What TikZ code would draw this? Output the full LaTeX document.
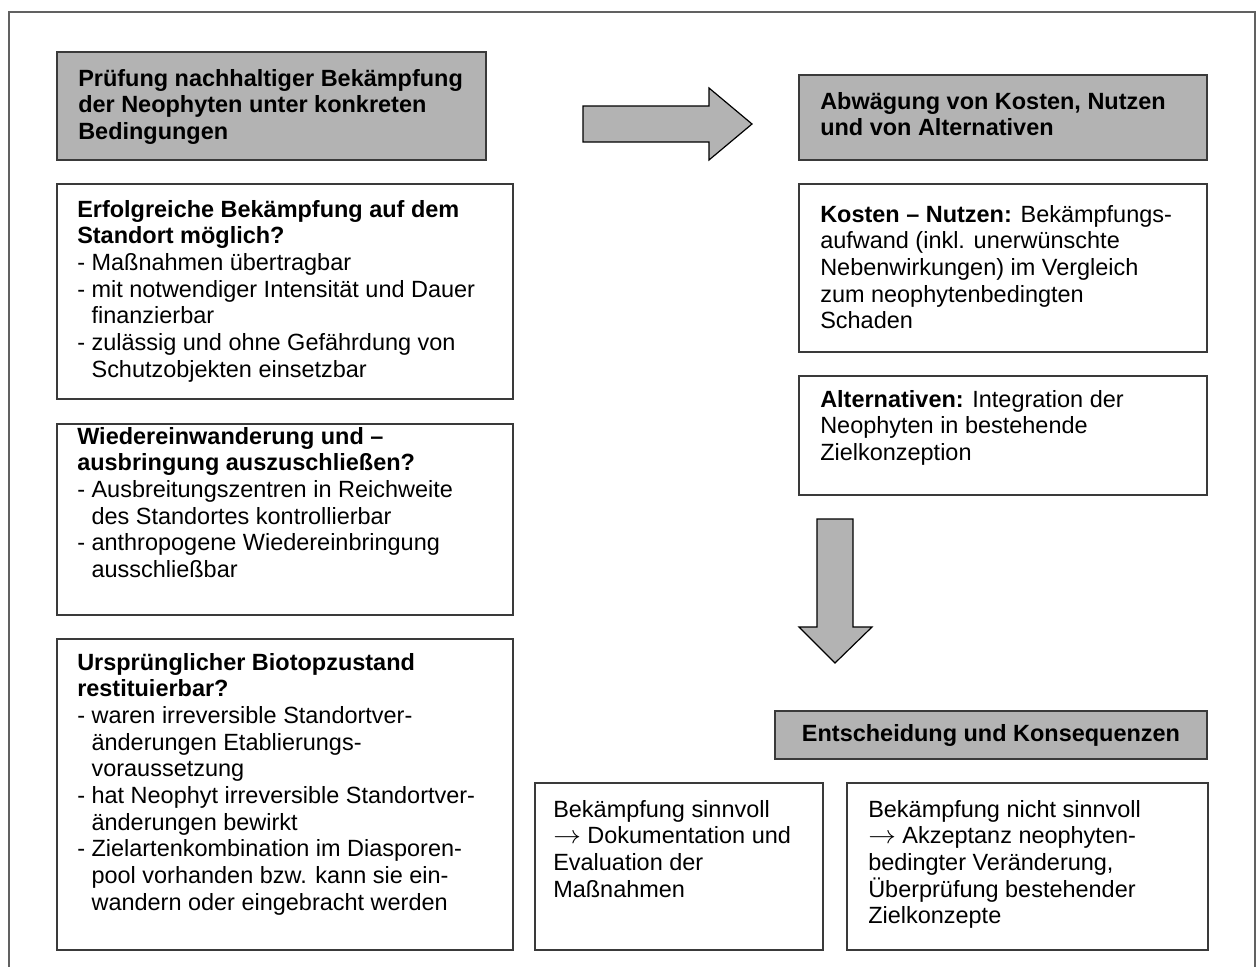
\documentclass[tikz,border=0pt]{standalone}
\usepackage{graphicx}
\usepackage{fontspec}
\setmainfont{Liberation Sans}
\usepackage{tikz}
\usetikzlibrary{fit}
\definecolor{kasten}{HTML}{B3B3B3}
\definecolor{rand}{HTML}{3A3A3A}
\newcommand{\bodyfont}{\fontsize{17.6pt}{20pt}\selectfont}
\newcommand{\ind}{\hphantom{-\ }}
\newcommand{\folgt}{\raisebox{0.4pt}{\scalebox{1.2}[1.1]{$\rightarrow$}}}

\begin{document}
\begin{tikzpicture}
	[x=0.75pt,y=-0.75pt,
	graybox/.style={draw=rand,line width=0.9pt,fill=kasten,inner sep=0pt},
	plainbox/.style={draw=rand,line width=0.9pt,fill=white,inner sep=0pt},
	txt/.style={anchor=north west,inner sep=0pt,align=left,font=\bodyfont,execute at begin node=\strut},
	pfeil/.style={draw=black,line width=0.9pt,fill=kasten,line join=miter}]
	\useasboundingbox (0,0) rectangle (1258,967);
	\clip (0,0) rectangle (1258,967);
	\draw[draw=rand!80,line width=0.9pt] (9,12) rectangle (1255,1000);
	
	\node[graybox,fit={(57,52) (486,160)}] (hdrL) {};
	\node[graybox,fit={(799,75) (1207,160)}] (hdrR) {};
	\node[graybox,fit={(775,711) (1207,759)}] (hdrE) {};
	
	\node[plainbox,fit={(57,184) (513,399)}] (erfolg) {};
	\node[plainbox,fit={(57,424) (513,615)}] (wieder) {};
	\node[plainbox,fit={(57,639) (513,950)}] (biotop) {};
	\node[plainbox,fit={(799,184) (1207,352)}] (kosten) {};
	\node[plainbox,fit={(799,376) (1207,495)}] (altern) {};
	\node[plainbox,fit={(535,783) (823,950)}] (sinnvoll) {};
	\node[plainbox,fit={(847,783) (1208,950)}] (nicht) {};
	
	\node[txt,font=\bodyfont\bfseries] (tL) at (78,69) {Prüfung nachhaltiger Bekämpfung\\der Neophyten unter konkreten\\Bedingungen};
	\node[txt,font=\bodyfont\bfseries] (tR) at (820,92) {Abwägung von Kosten, Nutzen\\und von Alternativen};
	\node[font=\bodyfont\bfseries,inner sep=0pt] (tE) at (hdrE.center) {Entscheidung und Konsequenzen};
	
	\node[txt] (tErfolg) at (77,200) {\textbf{Erfolgreiche Bekämpfung auf dem}\\
		\textbf{Standort möglich?}\\
		- Maßnahmen übertragbar\\
		- mit notwendiger Intensität und Dauer\\
		\ind finanzierbar\\
		- zulässig und ohne Gefährdung von\\
		\ind Schutzobjekten einsetzbar};
	\node[txt] (tWieder) at (77,427) {\textbf{Wiedereinwanderung und –}\\
		\textbf{ausbringung auszuschließen?}\\
		- Ausbreitungszentren in Reichweite\\
		\ind des Standortes kontrollierbar\\
		- anthropogene Wiedereinbringung\\
		\ind ausschließbar};
	\node[txt] (tBiotop) at (77,653) {\textbf{Ursprünglicher Biotopzustand}\\
		\textbf{restituierbar?}\\
		- waren irreversible Standortver-\\
		\ind änderungen Etablierungs-\\
		\ind voraussetzung\\
		- hat Neophyt irreversible Standortver-\\
		\ind änderungen bewirkt\\
		- Zielartenkombination im Diasporen-\\
		\ind pool vorhanden bzw. kann sie ein-\\
		\ind wandern oder eingebracht werden};
	\node[txt] (tKosten) at (820,205) {\textbf{Kosten – Nutzen:} Bekämpfungs-\\
		aufwand (inkl. unerwünschte\\
		Nebenwirkungen) im Vergleich\\
		zum neophytenbedingten\\
		Schaden};
	\node[txt] (tAltern) at (820,390) {\textbf{Alternativen:} Integration der\\
		Neophyten in bestehende\\
		Zielkonzeption};
	\node[txt] (tSinnvoll) at (553,800) {Bekämpfung sinnvoll\\
		\folgt{} Dokumentation und\\
		Evaluation der\\
		Maßnahmen};
	\node[txt] (tNicht) at (868,800) {Bekämpfung nicht sinnvoll\\
		\folgt{} Akzeptanz neophyten-\\
		bedingter Veränderung,\\
		Überprüfung bestehender\\
		Zielkonzepte};
	
	\draw[pfeil] (583,106) -- (709,106) -- (709,88) -- (752,124) -- (709,160) -- (709,142) -- (583,142) -- cycle;
	\draw[pfeil] (817,519) -- (853,519) -- (853,627) -- (872,627) -- (835,663) -- (799,627) -- (817,627) -- cycle;
\end{tikzpicture}
\end{document}
